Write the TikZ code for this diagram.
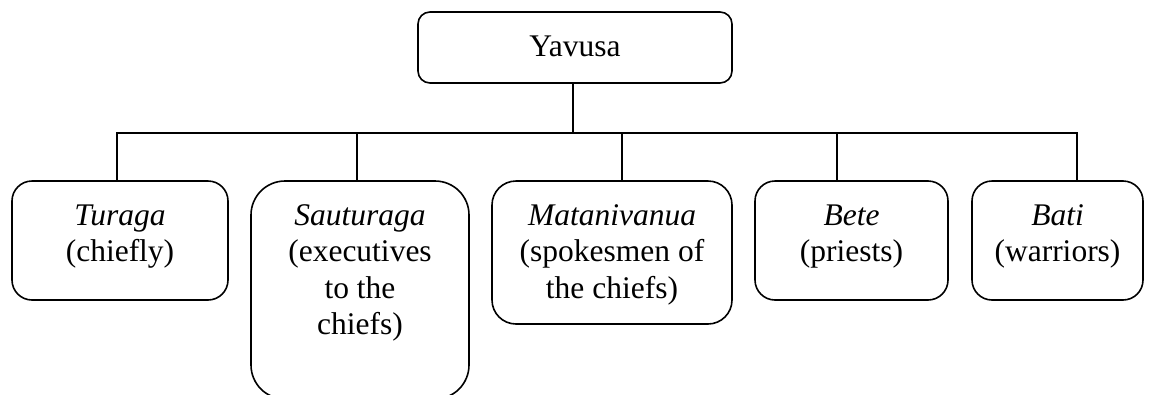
\documentclass[tikz,border=0pt]{standalone}
\usepackage{fontspec}
\setmainfont{Liberation Serif}
\begin{document}
\begin{tikzpicture}[x=1pt,y=-1pt,
  boxn/.style={draw, line width=1.6pt, inner sep=0pt},
  txt/.style={font=\fontsize{31.5}{36.5}\selectfont, align=center, inner sep=0pt, anchor=north},
  conn/.style={line width=1.6pt}]
\useasboundingbox (0,0) rectangle (1155,394);
% boxes
\node[boxn, minimum width=314pt, minimum height=71pt, rounded corners=12pt] (yavusa) at (575,47.5) {};
\node[boxn, minimum width=216pt, minimum height=119pt, rounded corners=20pt] (turaga) at (120,240.5) {};
\node[boxn, minimum width=218pt, minimum height=218pt, rounded corners=34pt] (sauturaga) at (360,290) {};
\node[boxn, minimum width=240pt, minimum height=143pt, rounded corners=24pt] (matani) at (612,252.5) {};
\node[boxn, minimum width=193pt, minimum height=119pt, rounded corners=20pt] (bete) at (851.5,240.5) {};
\node[boxn, minimum width=171pt, minimum height=119pt, rounded corners=20pt] (bati) at (1057.5,240.5) {};
% texts
\node[font=\fontsize{31.5}{36.5}\selectfont, inner sep=0pt, anchor=base] (yavusaT) at (575,56) {Yavusa};
\node[txt] (turagaT) at ([yshift=-24pt]turaga.north) {\textit{Turaga}\\(chiefly)};
\node[txt] (sauturagaT) at ([yshift=-24pt]sauturaga.north) {\textit{Sauturaga}\\(executives\\to the\\chiefs)};
\node[txt] (mataniT) at ([yshift=-24pt]matani.north) {\textit{Matanivanua}\\(spokesmen of\\the chiefs)};
\node[txt] (beteT) at ([yshift=-24pt]bete.north) {\textit{Bete}\\(priests)};
\node[txt] (batiT) at ([yshift=-24pt]bati.north) {\textit{Bati}\\(warriors)};
% junctions on the bar
\coordinate (j0) at (573,133);
\coordinate (j1) at (117,133);
\coordinate (j2) at (357,133);
\coordinate (j3) at (622,133);
\coordinate (j4) at (837,133);
\coordinate (j5) at (1077,133);
% connectors
\draw[conn] (j0 |- yavusa.south) -- (j0);
\draw[conn] (j1 |- turaga.north) -- (j1) -- (j5) -- (j5 |- bati.north);
\draw[conn] (j2) -- (j2 |- sauturaga.north);
\draw[conn] (j3) -- (j3 |- matani.north);
\draw[conn] (j4) -- (j4 |- bete.north);
\end{tikzpicture}
\end{document}
